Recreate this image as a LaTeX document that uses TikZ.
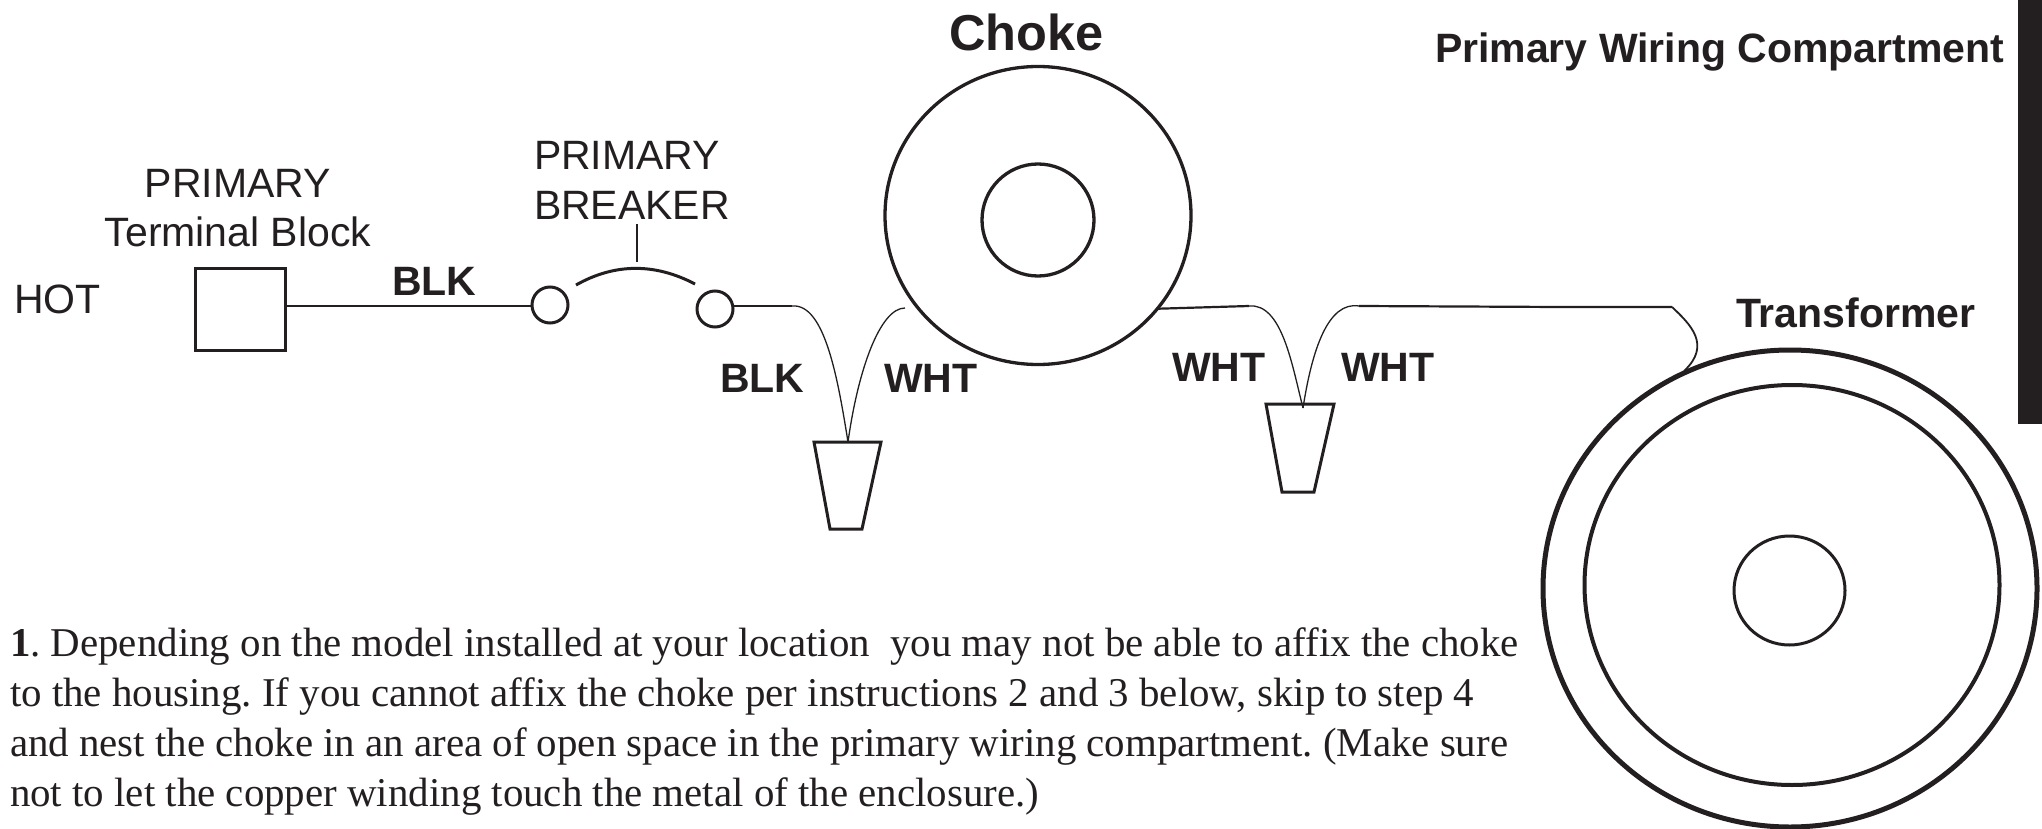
\documentclass[tikz,border=0pt]{standalone}
\usepackage{fontspec}
\usetikzlibrary{shapes.geometric}
\setmainfont{Liberation Sans}
\newfontfamily\serifface{Liberation Serif}
\definecolor{ink}{HTML}{231F20}
\tikzset{
  px/.style={x=1pt,y=-1pt},
  ring/.style={draw=ink,ellipse,inner sep=0pt,outer sep=0pt,line width=#1},
  ring/.default=3pt,
  wire/.style={draw=ink,line width=2.2pt},
  thinwire/.style={draw=ink,line width=1.3pt},
  lab/.style={anchor=base west,inner sep=0pt,outer sep=0pt,text=ink,font=\fontsize{41}{49}\selectfont},
  blab/.style={lab,font=\fontsize{41}{49}\selectfont\bfseries},
  funnel/.style={draw=ink,line width=3pt,line join=miter}
}
\begin{document}
\begin{tikzpicture}[px]
\useasboundingbox (0,0) rectangle (2042,829);
\fill[ink] (2018,0) rectangle (2042,424);
% titles
\node[lab,font=\fontsize{50.5}{60}\selectfont\bfseries] (chokelabel) at (949,51) {Choke};
\node[blab] (compartment) at (1435,63) {Primary Wiring Compartment};
\node[blab] (transformerlabel) at (1736,327) {Transformer};
\node[lab] (hot) at (14,313) {HOT};
\node[lab,anchor=base] (termA) at (238,197) {PRIMARY};
\node[lab,anchor=base] (termB) at (238,247) {Terminal Block};
\node[lab] (brkA) at (534,170) {PRIMARY};
\node[lab] (brkB) at (534,219) {BREAKER};
\node[blab] (blkA) at (392,295) {BLK};
\node[blab] (blkB) at (720,392) {BLK};
\node[blab] (whtA) at (884,392) {WHT};
\node[blab] (whtB) at (1172,381) {WHT};
\node[blab] (whtC) at (1341,381) {WHT};
% components
\node[draw=ink,line width=3pt,minimum width=90pt,minimum height=82pt,inner sep=0pt,outer sep=0pt] (block) at (240,309) {};
\node[ring=3pt,minimum width=36pt,minimum height=36pt] (contactA) at (550,305) {};
\node[ring=3pt,minimum width=36pt,minimum height=36pt] (contactB) at (715,309) {};
\node[ring=3.3pt,minimum width=306pt,minimum height=298pt] (choke) at (1038,215.5) {};
\node[ring=3.3pt,minimum width=112pt,minimum height=112pt] (chokecore) at (1038,220) {};
\node[ring=5pt,minimum width=494pt,minimum height=477pt] (xfmr) at (1790,588.5) {};
\node[ring=4pt,minimum width=415pt,minimum height=400pt] (xfmrmid) at (1792,585) {};
\node[ring=3pt,minimum width=111pt,minimum height=109pt] (xfmrcore) at (1789.5,590.5) {};
% breaker
\coordinate (armL) at (576,285);
\coordinate (armR) at (695,284);
\coordinate (armTop) at (637,262);
\coordinate (armTick) at (637,224);
\draw[draw=ink,line width=3pt] (armL) .. controls (615,263) and (655,263) .. (armR);
\draw[draw=ink,line width=2.4pt] (armTop) -- (armTick);
% funnels
\coordinate (fA) at (848,442);
\coordinate (fB) at (1303,408);
\draw[funnel] (814,442) -- (881,442) -- (862,529) -- (830,529) -- cycle;
\draw[funnel] (1266,404) -- (1334,404) -- (1314,492) -- (1282,492) -- cycle;
% wires
\coordinate (bendA) at (792,306);
\coordinate (stubA) at (905,308);
\coordinate (bendB) at (1249,306);
\coordinate (bendC) at (1359,306);
\coordinate (midC) at (1560,307);
\coordinate (bendD) at (1672,307);
\draw[wire] (block.east |- 0,306) -- (contactA.west |- 0,306);
\draw[wire] (contactB.east |- 0,306) -- (bendA);
\draw[thinwire] (bendA) .. controls (825,303) and (838,380) .. (fA);
\draw[thinwire] (stubA) .. controls (880,308) and (858,370) .. (fA);
\draw[wire] (choke.-38) -- (bendB);
\draw[thinwire] (bendB) .. controls (1282,303) and (1292,365) .. (fB);
\draw[thinwire] (fB) .. controls (1312,350) and (1328,301) .. (bendC);
\draw[wire] (bendC) -- (midC) -- (bendD);
\draw[draw=ink,line width=1.8pt] (bendD) .. controls (1690,324) and (1712,345) .. (1684,371);
% paragraph
\node[anchor=base west,align=left,inner sep=0pt,outer sep=0pt,text=ink,font=\serifface\frenchspacing\fontsize{40.9}{49.7}\selectfont] (para) at (10,806) {\textbf{1}. Depending on the model installed at your location\ \ you may not be able to affix the choke\\to the housing. If you cannot affix the choke per instructions 2 and 3 below, skip to step 4\\and nest the choke in an area of open space in the primary wiring compartment. (Make sure\\not to let the copper winding touch the metal of the enclosure.)};
\end{tikzpicture}
\end{document}
